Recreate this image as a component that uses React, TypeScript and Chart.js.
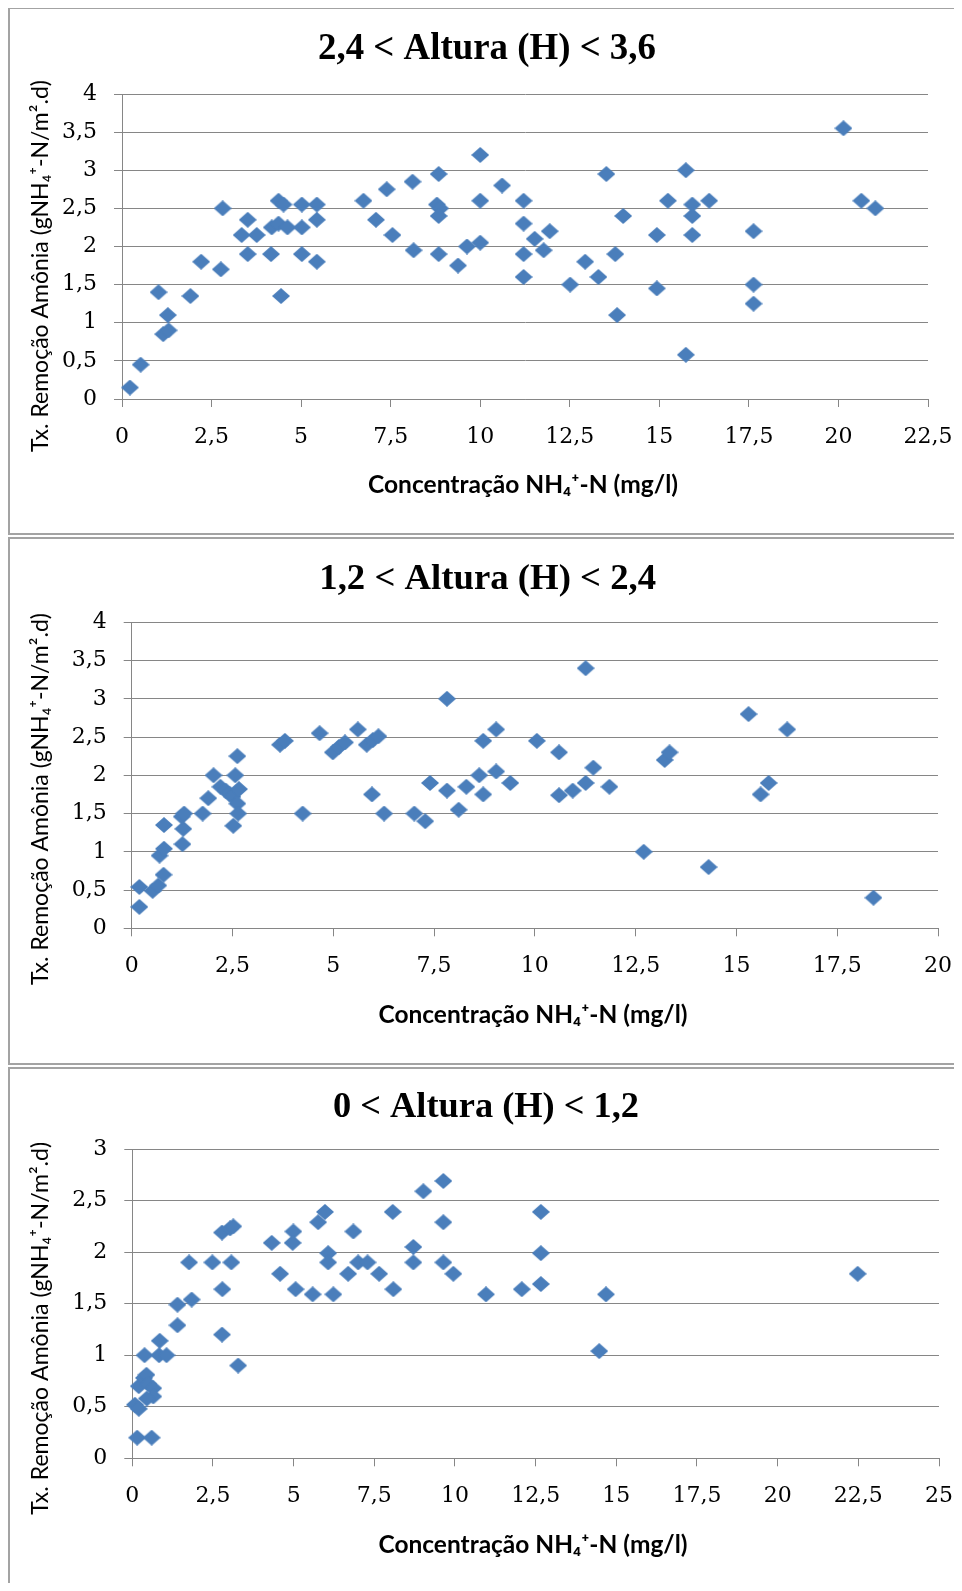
import React, { useEffect, useRef } from 'react';
import { Chart, registerables } from 'chart.js';

Chart.register(...registerables);

// ---------- Text ----------
const TITLE_1 = '2,4 < Altura (H) < 3,6';
const TITLE_2 = '1,2 < Altura (H) < 2,4';
const TITLE_3 = '0 < Altura (H) < 1,2';
const X_LABEL = 'Concentração NH₄⁺-N (mg/l)';
const Y_LABEL = 'Tx. Remoção Amônia (gNH₄⁺-N/m².d)';

// ---------- Tick values ----------
const X_TICKS_1 = [0, 2.5, 5, 7.5, 10, 12.5, 15, 17.5, 20, 22.5];
const Y_TICKS_1 = [0, 0.5, 1, 1.5, 2, 2.5, 3, 3.5, 4];
const X_TICKS_2 = [0, 2.5, 5, 7.5, 10, 12.5, 15, 17.5, 20];
const Y_TICKS_2 = [0, 0.5, 1, 1.5, 2, 2.5, 3, 3.5, 4];
const X_TICKS_3 = [0, 2.5, 5, 7.5, 10, 12.5, 15, 17.5, 20, 22.5, 25];
const Y_TICKS_3 = [0, 0.5, 1, 1.5, 2, 2.5, 3];

// ---------- Data: 2,4 < H < 3,6 ----------
const H1_X = [
  0.22, 0.52, 1.02, 1.28, 1.15, 1.3, 1.91, 2.21, 2.81, 2.76,
  3.34, 3.51, 3.51, 3.76, 4.18, 4.16, 4.37, 4.51, 4.37, 4.62,
  4.44, 5.02, 5.02, 5.02, 5.44, 5.44, 5.44, 6.74, 7.09, 7.39,
  7.55, 8.11, 8.14, 8.84, 8.79, 8.88, 8.84, 8.84, 9.38, 9.63,
  10.0, 10.0, 10.0, 10.61, 11.21, 11.21, 11.52, 11.94, 11.21, 11.77,
  11.21, 12.51, 12.93, 13.3, 13.52, 13.99, 13.77, 13.82, 14.93, 14.93,
  15.24, 15.74, 15.92, 15.92, 15.92, 16.39, 15.74, 17.63, 17.63, 17.63,
  20.14, 20.64, 21.03,
];
const H1_Y = [
  0.15, 0.45, 1.4, 1.1, 0.85, 0.9, 1.35, 1.8, 2.5, 1.7,
  2.15, 2.35, 1.9, 2.15, 2.25, 1.9, 2.6, 2.55, 2.3, 2.25,
  1.35, 2.55, 2.25, 1.9, 2.55, 2.35, 1.8, 2.6, 2.35, 2.75,
  2.15, 2.85, 1.95, 2.95, 2.55, 2.5, 2.4, 1.9, 1.75, 2.0,
  3.2, 2.6, 2.05, 2.8, 2.6, 2.3, 2.1, 2.2, 1.9, 1.95,
  1.6, 1.5, 1.8, 1.6, 2.95, 2.4, 1.9, 1.1, 2.15, 1.45,
  2.6, 3.0, 2.55, 2.4, 2.15, 2.6, 0.58, 2.2, 1.5, 1.25,
  3.55, 2.6, 2.5,
];

// ---------- Data: 1,2 < H < 2,4 ----------
const H2_X = [
  0.19, 0.19, 0.52, 0.66, 0.79, 0.69, 0.8, 0.8, 1.26, 1.28,
  1.24, 1.3, 1.76, 1.9, 2.03, 2.2, 2.33, 2.42, 2.5, 2.52,
  2.57, 2.62, 2.66, 2.62, 2.64, 3.68, 3.8, 4.24, 4.66, 4.99,
  5.14, 5.29, 5.61, 5.83, 5.98, 6.12, 5.96, 6.26, 7.01, 7.28,
  7.4, 7.82, 7.82, 8.11, 8.3, 8.62, 8.72, 8.72, 9.04, 9.04,
  9.39, 10.05, 10.6, 10.6, 10.94, 11.26, 11.45, 11.85, 11.26, 12.7,
  13.22, 13.34, 14.31, 15.3, 15.6, 15.8, 16.26, 18.4,
];
const H2_Y = [
  0.28, 0.54, 0.49, 0.56, 0.7, 0.95, 1.04, 1.35, 1.1, 1.3,
  1.46, 1.5, 1.5, 1.7, 2.0, 1.85, 1.8, 1.76, 1.72, 1.34,
  2.0, 2.25, 1.82, 1.63, 1.5, 2.4, 2.45, 1.5, 2.55, 2.3,
  2.37, 2.43, 2.6, 2.4, 2.46, 2.51, 1.75, 1.5, 1.5, 1.4,
  1.9, 3.0, 1.8, 1.55, 1.85, 2.0, 2.45, 1.75, 2.6, 2.05,
  1.9, 2.45, 2.3, 1.74, 1.8, 1.9, 2.1, 1.85, 3.4, 1.0,
  2.2, 2.3, 0.8, 2.8, 1.75, 1.9, 2.6, 0.4,
];

// ---------- Data: 0 < H < 1,2 ----------
const H3_X = [
  0.15, 0.6, 0.08, 0.2, 0.2, 0.36, 0.44, 0.5, 0.65, 0.65,
  0.45, 0.38, 0.85, 0.83, 1.06, 1.4, 1.4, 1.76, 1.84, 2.48,
  2.78, 2.79, 2.78, 3.03, 3.13, 3.07, 3.28, 4.32, 4.58, 4.99,
  4.97, 5.06, 5.59, 5.76, 5.97, 6.07, 6.07, 6.23, 6.69, 6.85,
  7.0, 7.29, 7.65, 8.07, 8.09, 8.71, 8.71, 9.02, 9.64, 9.64,
  9.64, 9.95, 10.96, 12.07, 12.66, 12.66, 12.66, 14.47, 14.68, 22.48,
];
const H3_Y = [
  0.2, 0.2, 0.52, 0.48, 0.7, 0.78, 0.81, 0.72, 0.68, 0.6,
  0.58, 1.0, 1.14, 1.0, 1.0, 1.29, 1.49, 1.9, 1.54, 1.9,
  2.19, 1.64, 1.2, 2.23, 2.25, 1.9, 0.9, 2.09, 1.79, 2.2,
  2.09, 1.64, 1.59, 2.29, 2.39, 1.99, 1.9, 1.59, 1.79, 2.2,
  1.9, 1.9, 1.79, 2.39, 1.64, 2.05, 1.9, 2.59, 2.69, 2.29,
  1.9, 1.79, 1.59, 1.64, 1.69, 1.99, 2.39, 1.04, 1.59, 1.79,
];

// ---------- Styling ----------
const MARKER = '#4a7ebb';
const GRID = '#868686';
const FRAME = '#a3a3a3';
const TICK_FONT = { family: '"DejaVu Serif", serif', size: 22 };
const TITLE_FAMILY = '"Liberation Serif", "Times New Roman", serif';
const LABEL_FAMILY = 'Lato, "Open Sans", sans-serif';

const fmt = (v: number) => String(v).replace('.', ',');

function makeDiamond(w: number, h: number, color: string) {
  const c = document.createElement('canvas');
  c.width = w;
  c.height = h;
  const g = c.getContext('2d')!;
  g.fillStyle = color;
  g.beginPath();
  g.moveTo(w / 2, 0);
  g.lineTo(w, h / 2);
  g.lineTo(w / 2, h);
  g.lineTo(0, h / 2);
  g.closePath();
  g.fill();
  return c;
}

// set a font whose size makes `text` span `target` pixels
function fitFont(ctx: CanvasRenderingContext2D, text: string, weight: string, family: string, target: number) {
  const base = 20;
  ctx.font = `${weight} ${base}px ${family}`;
  const wd = ctx.measureText(text).width || 1;
  const size = (base * target) / wd;
  ctx.font = `${weight} ${size.toFixed(2)}px ${family}`;
}

const textPlugin = {
  id: 'panelText',
  afterDraw(chart: any, _args: any, o: any) {
    const ctx = chart.ctx as CanvasRenderingContext2D;
    ctx.save();
    ctx.fillStyle = '#000';
    ctx.textAlign = 'center';
    ctx.textBaseline = 'alphabetic';
    fitFont(ctx, o.title, 'bold', TITLE_FAMILY, o.titleW);
    ctx.fillText(o.title, o.titleX, o.titleY);
    fitFont(ctx, o.xLabel, 'bold', LABEL_FAMILY, o.xLabelW);
    ctx.fillText(o.xLabel, o.xLabelX, o.xLabelY);
    ctx.translate(o.yLabelX, o.yLabelY);
    ctx.rotate(-Math.PI / 2);
    fitFont(ctx, o.yLabel, 'normal', LABEL_FAMILY, o.yLabelW);
    ctx.fillText(o.yLabel, 0, 0);
    ctx.restore();
  },
};

type PanelCfg = {
  title: string;
  xs: number[];
  ys: number[];
  xTicks: number[];
  yTicks: number[];
  w: number;
  h: number;
  area: { left: number; right: number; top: number; bottom: number };
  titlePos: [number, number, number];
  xLabelPos: [number, number, number];
  yLabelPos: [number, number, number];
};

function Panel({ cfg, boxStyle }: { cfg: PanelCfg; boxStyle: React.CSSProperties }) {
  const ref = useRef<HTMLCanvasElement>(null);

  useEffect(() => {
    const diamond = makeDiamond(18, 16, MARKER);
    const { area, w, h } = cfg;
    const chart = new Chart(ref.current!, {
      type: 'scatter',
      data: {
        datasets: [
          {
            data: cfg.xs.map((x, i) => ({ x, y: cfg.ys[i] })),
            pointStyle: diamond as any,
            pointRadius: 9,
            backgroundColor: MARKER,
            borderColor: MARKER,
            showLine: false,
            clip: false as any,
          },
        ],
      },
      options: {
        responsive: false,
        maintainAspectRatio: false,
        devicePixelRatio: 1,
        animation: false,
        layout: { padding: { top: area.top, left: 0, right: w - area.right, bottom: 0 } },
        plugins: {
          legend: { display: false },
          tooltip: { enabled: false },
          title: { display: false },
          panelText: {
            title: cfg.title,
            titleX: cfg.titlePos[0],
            titleY: cfg.titlePos[1],
            titleW: cfg.titlePos[2],
            xLabel: X_LABEL,
            xLabelX: cfg.xLabelPos[0],
            xLabelY: cfg.xLabelPos[1],
            xLabelW: cfg.xLabelPos[2],
            yLabel: Y_LABEL,
            yLabelX: cfg.yLabelPos[0],
            yLabelY: cfg.yLabelPos[1],
            yLabelW: cfg.yLabelPos[2],
          },
        } as any,
        scales: {
          x: {
            type: 'linear',
            min: cfg.xTicks[0],
            max: cfg.xTicks[cfg.xTicks.length - 1],
            afterBuildTicks: (s: any) => {
              s.ticks = cfg.xTicks.map((v) => ({ value: v }));
            },
            afterFit: (s: any) => {
              s.height = h - area.bottom;
              s.paddingLeft = 0;
              s.paddingRight = 0;
            },
            grid: { drawOnChartArea: false, drawTicks: true, tickLength: 8, color: GRID, lineWidth: 1 },
            border: { display: true, color: GRID, width: 1 },
            ticks: {
              font: TICK_FONT,
              color: '#000',
              padding: 17,
              maxRotation: 0,
              autoSkip: false,
              callback: (v: any) => fmt(Number(v)),
            },
          },
          y: {
            type: 'linear',
            min: cfg.yTicks[0],
            max: cfg.yTicks[cfg.yTicks.length - 1],
            afterBuildTicks: (s: any) => {
              s.ticks = cfg.yTicks.map((v) => ({ value: v }));
            },
            afterFit: (s: any) => {
              s.width = area.left;
              s.paddingTop = 0;
              s.paddingBottom = 0;
            },
            grid: { drawTicks: true, tickLength: 8, color: GRID, lineWidth: 1 },
            border: { display: true, color: GRID, width: 1 },
            ticks: {
              font: TICK_FONT,
              color: '#000',
              padding: 17,
              autoSkip: false,
              callback: (v: any) => fmt(Number(v)),
            },
          },
        },
      },
      plugins: [textPlugin as any],
    });
    return () => chart.destroy();
  }, []);

  return (
    <div style={boxStyle}>
      <canvas
        ref={ref}
        width={cfg.w}
        height={cfg.h}
        style={{ display: 'block', width: cfg.w, height: cfg.h }}
      />
    </div>
  );
}

// positions: [x, y, target width] in canvas pixels
const PANELS: PanelCfg[] = [
  {
    title: TITLE_1,
    xs: H1_X,
    ys: H1_Y,
    xTicks: X_TICKS_1,
    yTicks: Y_TICKS_1,
    w: 944,
    h: 524,
    area: { left: 112, right: 918, top: 85, bottom: 390 },
    titlePos: [477, 50.3, 338],
    xLabelPos: [513, 483.7, 310],
    yLabelPos: [38.3, 257, 372],
  },
  {
    title: TITLE_2,
    xs: H2_X,
    ys: H2_Y,
    xTicks: X_TICKS_2,
    yTicks: Y_TICKS_2,
    w: 944,
    h: 524,
    area: { left: 121.7, right: 928, top: 83.3, bottom: 389.3 },
    titlePos: [477.7, 50.3, 337],
    xLabelPos: [523, 484, 309],
    yLabelPos: [38.3, 260, 372],
  },
  {
    title: TITLE_3,
    xs: H3_X,
    ys: H3_Y,
    xTicks: X_TICKS_3,
    yTicks: Y_TICKS_3,
    w: 944,
    h: 514,
    area: { left: 122.3, right: 929, top: 80, bottom: 389.3 },
    titlePos: [476, 47.7, 306],
    xLabelPos: [523, 484, 309],
    yLabelPos: [38.3, 259.3, 373],
  },
];

export default function App() {
  useEffect(() => {
    document.documentElement.style.overflow = 'hidden';
  }, []);
  const base: React.CSSProperties = {
    boxSizing: 'border-box',
    width: 946,
    borderLeft: `2px solid ${FRAME}`,
    borderTop: `2px solid ${FRAME}`,
    borderBottom: `2px solid ${FRAME}`,
    background: '#fff',
  };
  return (
    <div>
      <Panel cfg={PANELS[0]} boxStyle={{ ...base, height: 528, marginTop: -1 }} />
      <Panel cfg={PANELS[1]} boxStyle={{ ...base, height: 528, marginTop: 2 }} />
      <Panel cfg={PANELS[2]} boxStyle={{ ...base, height: 516, marginTop: 2, borderBottom: 'none' }} />
    </div>
  );
}
